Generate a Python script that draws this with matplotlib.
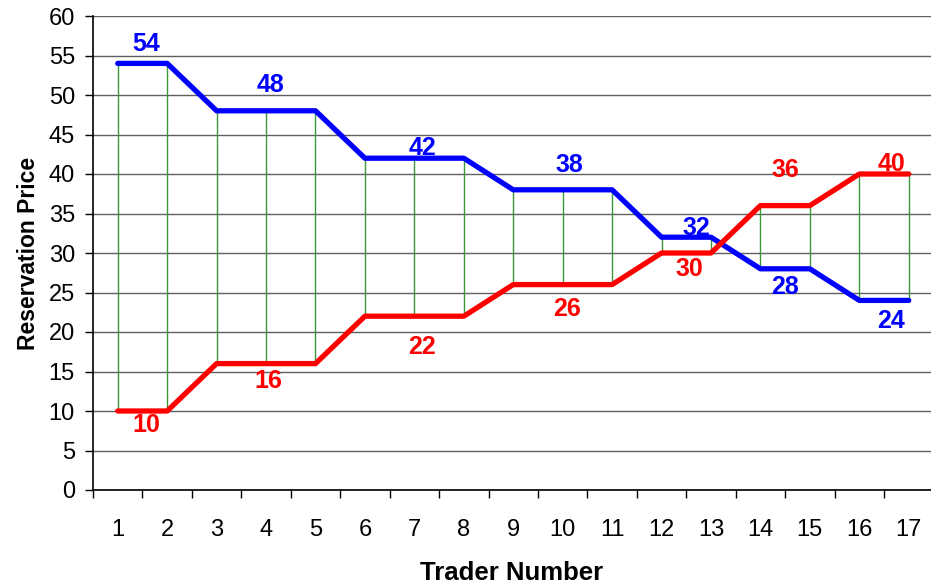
import numpy as np
import matplotlib
matplotlib.use("Agg")
import matplotlib.pyplot as plt
from matplotlib.ticker import FixedLocator, MultipleLocator

plt.rcParams['font.family'] = ['Liberation Sans', 'DejaVu Sans']

traders = list(range(1, 18))
buyers = [54, 54, 48, 48, 48, 42, 42, 42, 38, 38, 38, 32, 32, 28, 28, 24, 24]
sellers = [10, 10, 16, 16, 16, 22, 22, 22, 26, 26, 26, 30, 30, 36, 36, 40, 40]

# which points get a value label, and where the label sits (pixel offsets)
blue_lab_idx = [1, 3, 6, 9, 12, 13, 16]
blue_lab_off = [(-21, 19), (4, 26), (8, 10), (7, 25), (-15, 9), (25, -18), (-18, -21)]
red_lab_idx = [0, 3, 6, 9, 12, 13, 16]
red_lab_off = [(29, -14), (2, -17), (8, -31), (4, -24), (-22, -16), (25, 36), (-17, 10)]

fig = plt.figure(figsize=(9.31, 5.88), dpi=100)
ax = fig.add_axes([93/931, 1 - 490/588, 1 - 93/931, (490 - 16)/588])

# high-low lines between the two series
ax.vlines(traders, sellers, buyers, color='#3a9a3a', lw=1, zorder=2)
ax.plot(traders, buyers, color='#0000ff', lw=3.8, solid_capstyle='round', zorder=3)
ax.plot(traders, sellers, color='#ff0000', lw=3.8, solid_capstyle='round', zorder=3)

for i, (dx, dy) in zip(blue_lab_idx, blue_lab_off):
    ax.annotate(str(buyers[i]), (traders[i], buyers[i]), xytext=(dx, dy),
                textcoords='offset pixels', ha='center', va='center',
                color='#0000ff', fontsize=18, fontweight='bold', zorder=4)
for i, (dx, dy) in zip(red_lab_idx, red_lab_off):
    ax.annotate(str(sellers[i]), (traders[i], sellers[i]), xytext=(dx, dy),
                textcoords='offset pixels', ha='center', va='center',
                color='#ff0000', fontsize=18, fontweight='bold', zorder=4)

ax.set_xlim(0.5, 17.45)
ax.set_ylim(0, 60)
ax.yaxis.set_major_locator(MultipleLocator(5))
ax.yaxis.grid(True, color='#606060', lw=1)
ax.set_axisbelow(True)

ax.set_xticks(traders)
ax.set_xticklabels([str(t) for t in traders])
ax.xaxis.set_minor_locator(FixedLocator(np.arange(0.5, 17.5, 1)))
ax.tick_params(axis='x', which='major', length=0, pad=21, labelsize=17)
ax.tick_params(axis='x', which='minor', length=6, width=1, direction='out')
ax.tick_params(axis='y', length=6, width=1, labelsize=17, pad=7)

for s in ['top', 'right']:
    ax.spines[s].set_visible(False)
ax.spines['left'].set_linewidth(1.2)
ax.spines['bottom'].set_linewidth(1.2)

ax.set_xlabel('Trader Number', fontsize=18.5, fontweight='bold', labelpad=14)
ax.set_ylabel('Reservation Price', fontsize=16.5, fontweight='bold', labelpad=6)

fig.savefig('out.png', dpi=100)
